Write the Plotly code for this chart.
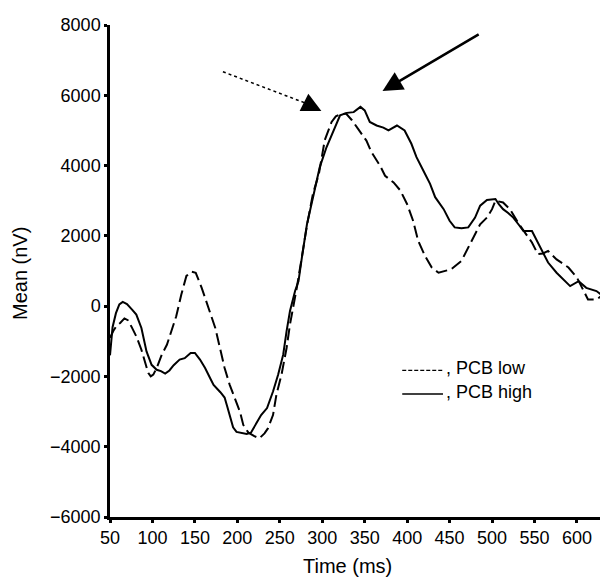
import plotly.graph_objects as go

# PCB low (dashed)
t_low = [50, 54, 58, 62, 67, 71, 75, 81, 87, 91, 95, 98, 101, 105, 111, 117, 123, 128, 134, 140,
         146, 151, 158, 166, 174, 180, 185, 191, 197, 203, 207, 213, 220, 226, 232, 236, 242, 246,
         252, 258, 262, 266, 270, 276, 282, 289, 296, 303, 311, 316, 321, 328, 335, 342, 352, 358,
         368, 374, 384, 392, 400, 407, 413, 421, 429, 437, 445, 452, 464, 472, 480, 486, 494, 500,
         504, 513, 521, 530, 540, 547, 554, 560, 566, 576, 590, 600, 608, 613, 623, 629, 633, 635]
v_low = [-900, -700, -550, -480, -350, -400, -570, -860, -1240, -1570, -1900, -2000, -1950, -1760,
         -1380, -1100, -670, -290, 330, 860, 980, 950, 520, -50, -620, -1240, -1760, -2240, -2620,
         -3000, -3380, -3600, -3700, -3760, -3620, -3480, -3100, -2520, -1950, -1190, -520, -50, 520,
         1400, 2300, 3190, 3760, 4730, 5240, 5400, 5460, 5480, 5290, 5050, 4710, 4380, 4000, 3710,
         3520, 3290, 2900, 2430, 1860, 1430, 1100, 950, 1000, 1050, 1290, 1670, 2050, 2330, 2520,
         2760, 3000, 2950, 2760, 2400, 2050, 1810, 1480, 1500, 1570, 1330, 1100, 810, 430, 190, 190,
         290, 50, -50]

# PCB high (solid)
t_high = [50, 53, 57, 61, 65, 70, 76, 81, 87, 93, 99, 105, 110, 115, 120, 125, 132, 138, 145, 150,
          156, 162, 168, 172, 180, 185, 188, 191, 195, 199, 205, 211, 216, 222, 228, 235, 242, 248,
          254, 258, 262, 268, 272, 276, 282, 290, 297, 305, 313, 321, 329, 337, 345, 350, 356, 364,
          372, 378, 388, 397, 405, 411, 419, 427, 433, 443, 450, 456, 464, 472, 480, 486, 494, 500,
          504, 508, 513, 519, 525, 531, 537, 547, 552, 557, 566, 576, 584, 592, 602, 611, 623, 630,
          633, 635]
v_high = [-1400, -600, -200, 50, 120, 60, -100, -240, -620, -1290, -1670, -1810, -1850, -1920,
          -1830, -1680, -1520, -1480, -1330, -1330, -1520, -1760, -2050, -2240, -2450, -2600, -2850,
          -3100, -3450, -3580, -3600, -3640, -3600, -3330, -3100, -2900, -2430, -1950, -1380, -710,
          -140, 430, 710, 1380, 2330, 3190, 3950, 4520, 5000, 5430, 5500, 5520, 5670, 5570, 5240,
          5140, 5080, 5000, 5140, 5000, 4620, 4240, 3860, 3480, 3100, 2760, 2430, 2240, 2220, 2240,
          2520, 2860, 3020, 3050, 3050, 2900, 2760, 2650, 2520, 2330, 2140, 2140, 1900, 1670, 1240,
          950, 750, 570, 710, 520, 430, 300, 140, -140]

x_ticks = [50, 100, 150, 200, 250, 300, 350, 400, 450, 500, 550, 600]
y_ticks = [-6000, -4000, -2000, 0, 2000, 4000, 6000, 8000]

# arrows: (tail, tip) in data units
solid_arrow = dict(tail=(486, 7760), tip=(371, 6120))
dotted_arrow = dict(tail=(183, 6670), base=(280, 5780), tip=(299, 5550))

font = "Liberation Sans, Arial, sans-serif"

fig = go.Figure()
fig.add_trace(go.Scatter(x=t_low, y=v_low, mode="lines", name="PCB low",
                         line=dict(color="black", width=2, dash="12px,5px")))
fig.add_trace(go.Scatter(x=t_high, y=v_high, mode="lines", name="PCB high",
                         line=dict(color="black", width=2)))

fig.add_annotation(x=solid_arrow["tip"][0], y=solid_arrow["tip"][1],
                   ax=solid_arrow["tail"][0], ay=solid_arrow["tail"][1],
                   xref="x", yref="y", axref="x", ayref="y", text="",
                   showarrow=True, arrowhead=2, arrowwidth=2.5, arrowsize=1.6,
                   arrowcolor="black")
fig.add_shape(type="line", xref="x", yref="y",
              x0=dotted_arrow["tail"][0], y0=dotted_arrow["tail"][1],
              x1=dotted_arrow["base"][0], y1=dotted_arrow["base"][1],
              line=dict(color="black", width=1.5, dash="dot"))
fig.add_annotation(x=dotted_arrow["tip"][0], y=dotted_arrow["tip"][1],
                   ax=dotted_arrow["base"][0], ay=dotted_arrow["base"][1],
                   xref="x", yref="y", axref="x", ayref="y", text="",
                   showarrow=True, arrowhead=2, arrowwidth=1.5, arrowsize=2.6,
                   arrowcolor="black")

# hand-drawn legend, as in the original figure
legend_rows = [(0.298, dict(color="black", width=1.2, dash="4px,2px"), ", PCB low"),
               (0.250, dict(color="black", width=1.5), ", PCB high")]
for ly, lstyle, label in legend_rows:
    fig.add_shape(type="line", xref="paper", yref="paper", x0=0.588, x1=0.670,
                  y0=ly, y1=ly, line=lstyle)
    fig.add_annotation(x=0.672, y=ly + 0.004, xref="paper", yref="paper", text=label,
                       showarrow=False, xanchor="left", yanchor="middle",
                       font=dict(size=18, color="black", family=font))

# axis titles
fig.add_annotation(x=0.477, y=-0.100, xref="paper", yref="paper", text="Time (ms)",
                   showarrow=False, xanchor="center", yanchor="middle",
                   font=dict(size=20, color="black", family=font))
fig.add_annotation(x=-0.181, y=0.494, xref="paper", yref="paper", text="Mean (nV)",
                   showarrow=False, textangle=-90, xanchor="center", yanchor="middle",
                   font=dict(size=20, color="black", family=font))

axis_common = dict(showgrid=False, zeroline=False, showline=True, linecolor="black",
                   linewidth=2.5, ticks="outside", ticklen=3, tickwidth=3,
                   tickcolor="black", tickfont=dict(size=18, color="black", family=font))

fig.update_xaxes(range=[50, 635.4], tickvals=x_ticks, **axis_common)
fig.update_yaxes(range=[-6000, 8000], tickvals=y_ticks, **axis_common)

# page body has an 8px margin, so the figure is 8px smaller on each side
fig.update_layout(width=600, height=569, margin=dict(l=102, r=1, t=17, b=60),
                  plot_bgcolor="white", paper_bgcolor="white", showlegend=False,
                  font=dict(family=font, size=18, color="black"))

fig.write_html("out.html")
